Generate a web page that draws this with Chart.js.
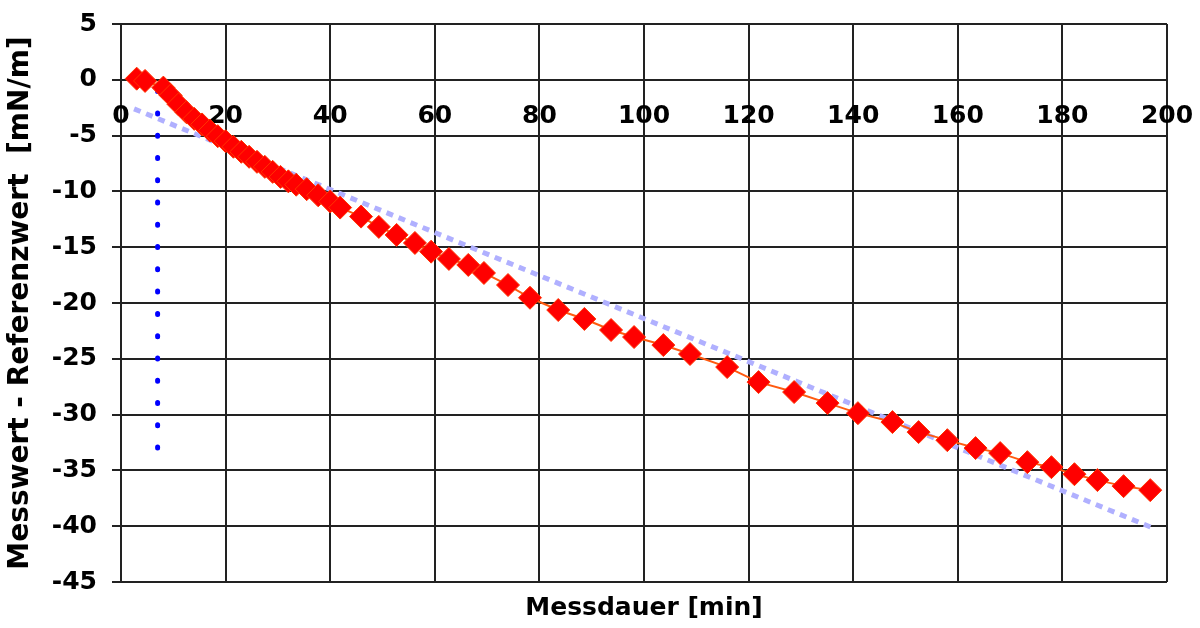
<!DOCTYPE html>
<html lang="de">
<head>
<meta charset="UTF-8">
<title>Messwert - Referenzwert</title>
<script src="https://cdn.jsdelivr.net/npm/chart.js"></script>
<style>
  html, body { margin: 0; padding: 0; background: #fff; }
  #wrap { width: 1200px; height: 628px; }
</style>
</head>
<body>
<div id="wrap"><canvas id="chart" width="1200" height="628"></canvas></div>
<script>
// Messpunkte (Messdauer in min, Abweichung in mN/m)
const minutes = [3.0, 4.6, 8.1, 9.5, 11.0, 12.5, 14.0, 15.5, 17.0, 18.5, 20.0, 21.5, 23.0, 24.5, 26.0, 27.5, 29.0, 30.5, 32.0, 33.5,
  35.5, 37.7, 40.0, 41.9, 45.9, 49.3, 52.7, 56.2, 59.3, 62.7, 66.4, 69.4, 74.0, 78.2, 83.6, 88.6, 93.7, 98.1, 103.7, 108.8,
  115.9, 121.9, 128.7, 135.1, 140.9, 147.5, 152.5, 158.0, 163.4, 168.1, 173.3, 177.9, 182.3, 186.7, 191.7, 196.8];
const deltaValues = [0.1, -0.1, -0.7, -1.4, -2.2, -2.9, -3.5, -4.0, -4.55, -5.05, -5.5, -6.0, -6.45, -6.9, -7.35, -7.8, -8.25, -8.7, -9.1, -9.4,
  -9.8, -10.35, -10.9, -11.45, -12.26, -13.18, -13.9, -14.62, -15.4, -16.05, -16.59, -17.31, -18.39, -19.53, -20.63, -21.43, -22.42, -23.05, -23.77, -24.57,
  -25.74, -27.09, -27.98, -28.97, -29.87, -30.67, -31.57, -32.29, -33.0, -33.45, -34.26, -34.71, -35.34, -35.87, -36.41, -36.77];

// Trendlinie (Anfang und Ende)
const trendX = [2.5, 197];
const trendY = [-2.6, -40.1];

// senkrechte Markierung (von unten nach oben)
const markX = [7, 7];
const markY = [-33, -1];

// Achsen
const xTicks = [0, 20, 40, 60, 80, 100, 120, 140, 160, 180, 200];
const yTicks = [5, 0, -5, -10, -15, -20, -25, -30, -35, -40, -45];

function toPoints(xs, ys) {
  return xs.map((x, i) => ({ x: x, y: ys[i] }));
}

// keine Extra-Abstände durch Beschriftungen
function noScalePadding(scale) {
  scale.paddingTop = 0;
  scale.paddingBottom = 0;
  scale.paddingLeft = 0;
  scale.paddingRight = 0;
}

const tickFont = { family: 'DejaVu Sans', size: 25, weight: 'bold' };
const gridColor = '#222';

new Chart(document.getElementById('chart'), {
  type: 'line',
  data: {
    datasets: [
      {
        label: 'Messwert',
        data: toPoints(minutes, deltaValues),
        borderColor: '#ff5a10',
        borderWidth: 2,
        pointStyle: 'rectRot',
        pointRadius: 11.5,
        pointBackgroundColor: '#ff0000',
        pointBorderColor: '#ff3300',
        pointBorderWidth: 1,
        tension: 0
      },
      {
        label: 'Trend',
        data: toPoints(trendX, trendY),
        borderColor: '#b0b0ff',
        borderWidth: 5,
        borderDash: [7, 6],
        pointRadius: 0
      },
      {
        label: 'Start',
        data: toPoints(markX, markY),
        borderColor: '#0000ff',
        borderWidth: 5,
        borderDash: [1, 21.28],
        borderCapStyle: 'round',
        pointRadius: 0
      }
    ]
  },
  options: {
    responsive: false,
    animation: false,
    events: [],
    layout: { padding: { left: 0, right: 33, top: 24, bottom: 0 } },
    plugins: {
      legend: { display: false },
      tooltip: { enabled: false },
      title: {
        display: true,
        position: 'bottom',
        fullSize: false,
        text: 'Messdauer [min]',
        color: '#000',
        font: { family: 'DejaVu Sans', size: 25, weight: 'bold' },
        padding: { top: 11, bottom: 5 }
      }
    },
    scales: {
      x: {
        type: 'linear',
        position: { y: 0 },
        min: 0,
        max: 200,
        afterBuildTicks: (scale) => { scale.ticks = xTicks.map(v => ({ value: v })); },
        afterFit: noScalePadding,
        ticks: { color: '#000', font: tickFont, padding: 22, maxRotation: 0, autoSkip: false },
        grid: { color: gridColor, lineWidth: 2, drawTicks: false },
        border: { display: false }
      },
      y: {
        type: 'linear',
        min: -45,
        max: 5,
        afterBuildTicks: (scale) => { scale.ticks = yTicks.map(v => ({ value: v })); },
        afterFit: (scale) => { scale.width = 121; noScalePadding(scale); },
        ticks: { color: '#000', font: tickFont, padding: 15 },
        grid: { color: gridColor, lineWidth: 2, tickLength: 9 },
        border: { display: false },
        title: {
          display: true,
          text: 'Messwert - Referenzwert  [mN/m]',
          color: '#000',
          font: { family: 'DejaVu Sans', size: 28, weight: 'bold' },
          padding: { top: 4, bottom: 0 }
        }
      }
    }
  }
});
</script>
</body>
</html>
